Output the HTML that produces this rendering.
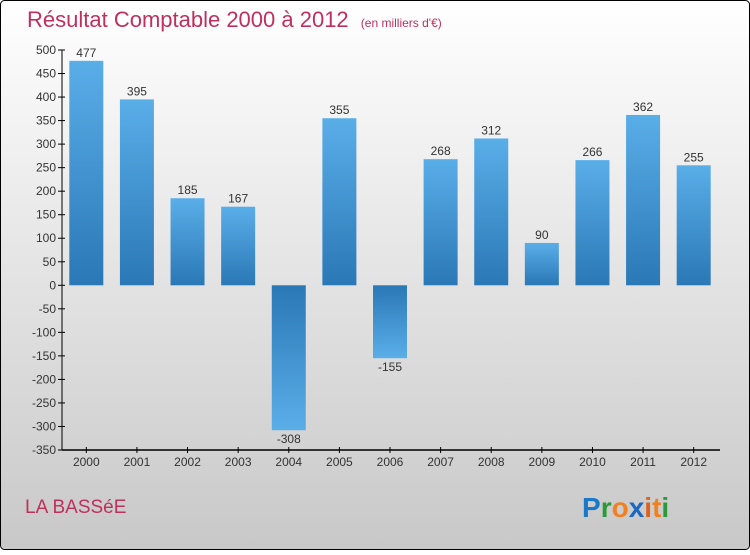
<!DOCTYPE html>
<html><head><meta charset="utf-8"><style>
html,body{margin:0;padding:0}
body{width:750px;height:550px;overflow:hidden;font-family:"Liberation Sans",sans-serif}
</style></head><body>
<svg width="750" height="550" xmlns="http://www.w3.org/2000/svg">
<defs>
<linearGradient id="bg" x1="0" y1="0" x2="0" y2="1"><stop offset="0" stop-color="#ffffff"/><stop offset="1" stop-color="#c8c8c8"/></linearGradient>
<linearGradient id="pos" x1="0" y1="0" x2="0" y2="1"><stop offset="0" stop-color="#5aaee8"/><stop offset="1" stop-color="#2a78b6"/></linearGradient>
<linearGradient id="neg" x1="0" y1="0" x2="0" y2="1"><stop offset="0" stop-color="#2a78b6"/><stop offset="1" stop-color="#5aaee8"/></linearGradient>
</defs>
<rect x="0.5" y="0.5" width="749" height="549" rx="4" fill="url(#bg)" stroke="#000"/>
<text x="27" y="27" font-size="22" fill="#c0305e">Résultat Comptable 2000 à 2012 <tspan font-size="12" dx="6">(en milliers d'€)</tspan></text>
<g id="plot"></g>
<text x="25" y="513" font-size="19" fill="#c0305e">LA BASSéE</text>
<text x="582" y="517" font-size="28" font-weight="bold"><tspan fill="#1a78c8">P</tspan><tspan fill="#2a9a3a">r</tspan><tspan fill="#f08020">o</tspan><tspan fill="#1a68c0">x</tspan><tspan fill="#e06020">i</tspan><tspan fill="#f08020">t</tspan><tspan fill="#2a9a3a">i</tspan></text>
</svg>
<script>
const categories=["2000","2001","2002","2003","2004","2005","2006","2007","2008","2009","2010","2011","2012"];
const values=[477,395,185,167,-308,355,-155,268,312,90,266,362,255];
const yTicks=[500,450,400,350,300,250,200,150,100,50,0,-50,-100,-150,-200,-250,-300,-350];
const NS="http://www.w3.org/2000/svg";
const g=document.getElementById('plot');
const x0=62,x1=720,yTop=50,yBot=450,vMax=500,vMin=-350;
const y=v=>yTop+(vMax-v)*(yBot-yTop)/(vMax-vMin);
const step=(x1-x0)/categories.length;
const xc=i=>x0+step*(i+0.5)-1;
function el(t,a,txt){const e=document.createElementNS(NS,t);for(const k in a)e.setAttribute(k,a[k]);if(txt!==undefined)e.textContent=txt;g.appendChild(e);return e;}
yTicks.forEach(v=>{
 const l=el('line',{x1:x0-4,x2:x0+3,y1:y(v),y2:y(v),stroke:'#000'});
 
 
 const t=el('text',{x:x0-6,y:y(v)+4,'text-anchor':'end','font-size':12,fill:'#333'},v);
 
 
});
values.forEach((v,i)=>{
 const w=34,top=Math.min(y(v),y(0)),h=Math.abs(y(v)-y(0));
 const r=el('rect',{x:xc(i)-w/2,y:top,width:w,height:h,fill:v>=0?'url(#pos)':'url(#neg)'});
 
 
 const t=el('text',{x:xc(i),y:v>=0?y(v)-4:y(v)+13,'text-anchor':'middle','font-size':12,fill:'#333'},v<0?'-'+Math.abs(v):v);
 
 
 const tk=el('line',{x1:xc(i),x2:xc(i),y1:yBot-3,y2:yBot+3,stroke:'#000'});
 
 
 const xl=el('text',{x:xc(i),y:yBot+16,'text-anchor':'middle','font-size':12,fill:'#333'},categories[i]);
 
 
});
const ya=el('line',{x1:x0,x2:x0,y1:yTop,y2:yBot,stroke:'#000'});


const xa=el('line',{x1:x0,x2:x1,y1:yBot,y2:yBot,stroke:'#000','stroke-width':1.5});


</script>
</body></html>
